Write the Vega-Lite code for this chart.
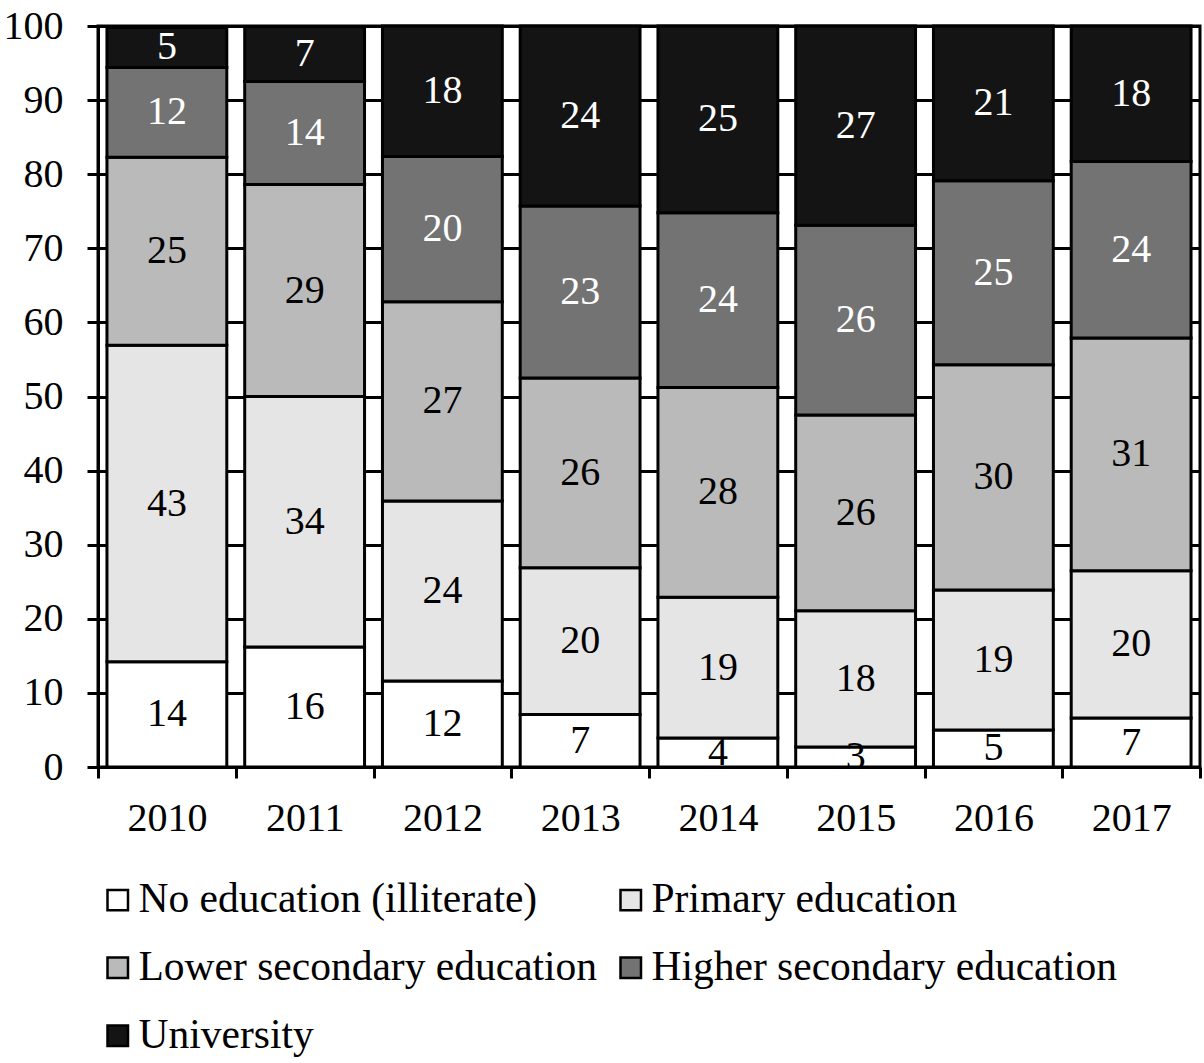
{
  "$schema": "https://vega.github.io/schema/vega-lite/v6.json",
  "autosize": {"type": "none"},
  "padding": {"left": 98, "top": 26, "right": 4, "bottom": 296},
  "width": 1102,
  "height": 741,
  "background": "white",
  "config": {
    "font": "Liberation Serif",
    "view": {"stroke": "black", "strokeWidth": 3},
    "axis": {
      "domainColor": "black",
      "domainWidth": 3,
      "tickColor": "black",
      "tickWidth": 3,
      "tickSize": 11,
      "labelColor": "black",
      "labelFont": "Liberation Serif",
      "labelFontSize": 40,
      "title": null
    }
  },
  "data": {
    "values": [
      {"year": "2010", "level": "No education (illiterate)", "k": 1, "value": 14.2},
      {"year": "2010", "level": "Primary education", "k": 2, "value": 42.7},
      {"year": "2010", "level": "Lower secondary education", "k": 3, "value": 25.4},
      {"year": "2010", "level": "Higher secondary education", "k": 4, "value": 12.1},
      {"year": "2010", "level": "University", "k": 5, "value": 5.4},
      {"year": "2011", "level": "No education (illiterate)", "k": 1, "value": 16.2},
      {"year": "2011", "level": "Primary education", "k": 2, "value": 33.8},
      {"year": "2011", "level": "Lower secondary education", "k": 3, "value": 28.6},
      {"year": "2011", "level": "Higher secondary education", "k": 4, "value": 13.9},
      {"year": "2011", "level": "University", "k": 5, "value": 7.4},
      {"year": "2012", "level": "No education (illiterate)", "k": 1, "value": 11.6},
      {"year": "2012", "level": "Primary education", "k": 2, "value": 24.3},
      {"year": "2012", "level": "Lower secondary education", "k": 3, "value": 26.9},
      {"year": "2012", "level": "Higher secondary education", "k": 4, "value": 19.6},
      {"year": "2012", "level": "University", "k": 5, "value": 17.6},
      {"year": "2013", "level": "No education (illiterate)", "k": 1, "value": 7.1},
      {"year": "2013", "level": "Primary education", "k": 2, "value": 19.8},
      {"year": "2013", "level": "Lower secondary education", "k": 3, "value": 25.6},
      {"year": "2013", "level": "Higher secondary education", "k": 4, "value": 23.2},
      {"year": "2013", "level": "University", "k": 5, "value": 24.3},
      {"year": "2014", "level": "No education (illiterate)", "k": 1, "value": 3.9},
      {"year": "2014", "level": "Primary education", "k": 2, "value": 19.0},
      {"year": "2014", "level": "Lower secondary education", "k": 3, "value": 28.3},
      {"year": "2014", "level": "Higher secondary education", "k": 4, "value": 23.6},
      {"year": "2014", "level": "University", "k": 5, "value": 25.2},
      {"year": "2015", "level": "No education (illiterate)", "k": 1, "value": 2.7},
      {"year": "2015", "level": "Primary education", "k": 2, "value": 18.4},
      {"year": "2015", "level": "Lower secondary education", "k": 3, "value": 26.4},
      {"year": "2015", "level": "Higher secondary education", "k": 4, "value": 25.6},
      {"year": "2015", "level": "University", "k": 5, "value": 26.9},
      {"year": "2016", "level": "No education (illiterate)", "k": 1, "value": 5.0},
      {"year": "2016", "level": "Primary education", "k": 2, "value": 18.9},
      {"year": "2016", "level": "Lower secondary education", "k": 3, "value": 30.4},
      {"year": "2016", "level": "Higher secondary education", "k": 4, "value": 24.8},
      {"year": "2016", "level": "University", "k": 5, "value": 20.9},
      {"year": "2017", "level": "No education (illiterate)", "k": 1, "value": 6.6},
      {"year": "2017", "level": "Primary education", "k": 2, "value": 19.9},
      {"year": "2017", "level": "Lower secondary education", "k": 3, "value": 31.4},
      {"year": "2017", "level": "Higher secondary education", "k": 4, "value": 23.8},
      {"year": "2017", "level": "University", "k": 5, "value": 18.3}
    ]
  },
  "encoding": {
    "x": {
      "field": "year",
      "type": "nominal",
      "scale": {"paddingInner": 0, "paddingOuter": 0},
      "axis": {"labelAngle": 0, "tickBand": "extent", "labelPadding": 20}
    },
    "y": {
      "field": "value",
      "type": "quantitative",
      "stack": "zero",
      "scale": {"domain": [0, 100], "nice": false},
      "axis": {
        "values": [0, 10, 20, 30, 40, 50, 60, 70, 80, 90, 100],
        "grid": true,
        "gridColor": "black",
        "gridWidth": 3,
        "gridOpacity": 1,
        "labelPadding": 24
      }
    },
    "order": {"field": "k", "type": "quantitative"}
  },
  "layer": [
    {
      "mark": {"type": "bar", "stroke": "black", "strokeWidth": 3, "width": {"band": 0.87}},
      "encoding": {
        "color": {
          "field": "level",
          "type": "nominal",
          "scale": {
            "domain": [
              "No education (illiterate)",
              "Primary education",
              "Lower secondary education",
              "Higher secondary education",
              "University"
            ],
            "range": ["#ffffff", "#e5e5e5", "#bababa", "#737373", "#141414"]
          },
          "legend": {
            "title": null,
            "orient": "none",
            "direction": "horizontal",
            "legendX": -1,
            "legendY": 853,
            "columns": 2,
            "columnPadding": 12,
            "rowPadding": 25,
            "padding": 0,
            "symbolType": "square",
            "symbolSize": 420,
            "symbolStrokeColor": "black",
            "symbolStrokeWidth": 2.5,
            "symbolOpacity": 1,
            "labelFont": "Liberation Serif",
            "labelFontSize": 41.5,
            "labelColor": "black",
            "labelOffset": 0,
            "labelLimit": 0
          }
        }
      }
    },
    {
      "mark": {"type": "text", "fontSize": 40, "font": "Liberation Serif", "baseline": "middle"},
      "encoding": {
        "y": {"field": "value", "type": "quantitative", "stack": "zero", "bandPosition": 0.5},
        "detail": {"field": "level"},
        "text": {"field": "value", "type": "quantitative", "format": ".0f"},
        "color": {
          "condition": {"test": "datum.k >= 4", "value": "white"},
          "value": "black"
        }
      }
    }
  ]
}
